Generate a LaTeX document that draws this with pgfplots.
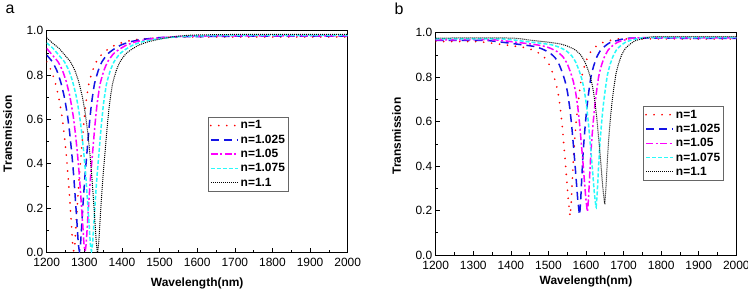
\documentclass[border=0pt]{standalone}
\usepackage{fontspec}
\setmainfont{Liberation Sans}
\usepackage{pgfplots}
\pgfplotsset{compat=1.18}
\definecolor{cred}{rgb}{1,0,0}
\definecolor{cblue}{rgb}{0.08,0.08,0.9}
\definecolor{cmag}{rgb}{1,0,1}
\definecolor{ccyan}{rgb}{0.16,0.98,0.98}
\pgfplotsset{
 myaxis/.style={
  scale only axis, xmin=1200,xmax=2000,ymin=0,ymax=1,
  xtick={1200,1300,...,2000}, ytick={0,0.2,0.4,0.6,0.8,1.0},
  minor x tick num=1, minor y tick num=1,
  tick align=inside, tick pos=left,
  major tick length=4bp, minor tick length=2.5bp,
  axis line style={line width=0.8bp},
  every tick/.style={line width=0.6bp},
  /pgf/number format/assume math mode=true,
  /pgf/number format/1000 sep={},
  yticklabel style={/pgf/number format/fixed, /pgf/number format/fixed zerofill, /pgf/number format/precision=1},
  xticklabel style={yshift=-2.5bp},
  tick label style={font=\fontsize{12}{14}\selectfont},
  label style={font=\fontsize{12}{14}\selectfont\bfseries},
  xlabel={Wavelength(nm)}, ylabel={Transmission},
  legend cell align=left,
  legend style={draw=gray!80!black, text=black, line width=0.6bp, fill=white, font=\fontsize{12}{14}\selectfont\bfseries, anchor=north west, inner sep=1.5bp, row sep=0.5bp},
  legend image code/.code={\draw[##1] (0bp,0bp) -- (27bp,0bp);},
 },
 s1/.style={draw=cred, line width=1.9bp, line cap=round, dash pattern=on 0bp off 8bp, smooth, tension=0.3},
 s2/.style={draw=cblue, line width=1.5bp, dash pattern=on 8bp off 5bp, smooth, tension=0.3},
 s3/.style={draw=cmag, line width=1.5bp, dash pattern=on 7bp off 2.5bp on 2bp off 2.5bp, smooth, tension=0.3},
 s4/.style={draw=ccyan, line width=1.5bp, dash pattern=on 4bp off 2bp, smooth, tension=0.3},
 s5/.style={draw=black, line width=1bp, dash pattern=on 1bp off 1bp, smooth, tension=0.3},
}
\begin{document}
\begin{tikzpicture}
\useasboundingbox (0,0) rectangle (748bp,293bp);
\node[font=\fontsize{16}{18}\selectfont] at (10bp,284bp) {a};
\node[font=\fontsize{16}{18}\selectfont] at (399bp,284bp) {b};
% ---------------- panel a
\begin{axis}[myaxis, at={(46.7bp,40.7bp)}, anchor=south west, width=301bp, height=221.6bp,
  xlabel style={at={(axis description cs:0.5,-0.1385)}, anchor=center},
  ylabel style={at={(axis description cs:-0.130,0.535)}, anchor=center},
  legend style={at={(0.536,0.611)}}]
\addplot[s1] coordinates {
(1200,0.86)(1212,0.82)(1222,0.77)(1232,0.70)(1240,0.62)(1246,0.54)(1252,0.44)(1257,0.34)(1262,0.22)(1266,0.12)(1269,0.04)(1272,0.005)(1275,0.04)(1278,0.12)(1282,0.23)(1287,0.35)(1292,0.45)(1298,0.57)(1304,0.67)(1312,0.76)(1322,0.82)(1332,0.86)(1347,0.895)(1362,0.915)(1382,0.935)(1407,0.95)(1437,0.96)(1472,0.965)(1522,0.97)(1600,0.972)(1800,0.972)(2000,0.972)};
\addlegendentry{n=1}
\addplot[s2] coordinates {
(1200,0.89)(1215,0.86)(1227,0.82)(1237,0.77)(1247,0.70)(1255,0.62)(1261,0.54)(1267,0.44)(1272,0.34)(1277,0.22)(1281,0.12)(1284,0.04)(1287,0.005)(1290,0.04)(1293,0.12)(1297,0.23)(1302,0.35)(1307,0.45)(1313,0.57)(1319,0.67)(1327,0.76)(1337,0.82)(1347,0.86)(1362,0.895)(1377,0.915)(1397,0.935)(1422,0.95)(1452,0.96)(1487,0.967)(1537,0.972)(1700,0.975)(2000,0.975)};
\addlegendentry{n=1.025}
\addplot[s3] coordinates {
(1200,0.92)(1215,0.89)(1230,0.86)(1242,0.82)(1252,0.77)(1262,0.70)(1270,0.62)(1276,0.54)(1282,0.44)(1287,0.34)(1292,0.22)(1296,0.12)(1299,0.04)(1302,0.005)(1305,0.04)(1308,0.12)(1312,0.23)(1317,0.35)(1322,0.45)(1328,0.57)(1334,0.67)(1342,0.76)(1352,0.82)(1362,0.86)(1377,0.895)(1392,0.915)(1412,0.935)(1437,0.95)(1467,0.96)(1502,0.968)(1552,0.974)(1700,0.977)(2000,0.977)};
\addlegendentry{n=1.05}
\addplot[s4] coordinates {
(1200,0.945)(1217,0.92)(1232,0.89)(1247,0.86)(1259,0.82)(1269,0.77)(1279,0.70)(1287,0.62)(1293,0.54)(1299,0.44)(1304,0.34)(1309,0.22)(1313,0.12)(1316,0.04)(1319,0.005)(1322,0.04)(1325,0.12)(1329,0.23)(1334,0.35)(1339,0.45)(1345,0.57)(1351,0.67)(1359,0.76)(1369,0.82)(1379,0.86)(1394,0.895)(1409,0.915)(1429,0.935)(1454,0.95)(1484,0.96)(1519,0.968)(1569,0.975)(1700,0.979)(2000,0.979)};
\addlegendentry{n=1.075}
\addplot[s5] coordinates {
(1200,0.968)(1215,0.945)(1233,0.92)(1248,0.89)(1263,0.86)(1275,0.82)(1285,0.77)(1295,0.70)(1303,0.62)(1309,0.54)(1315,0.44)(1320,0.34)(1325,0.22)(1329,0.12)(1332,0.04)(1335,0.0)(1338,0.04)(1341,0.12)(1345,0.23)(1350,0.35)(1355,0.45)(1361,0.57)(1367,0.67)(1375,0.76)(1385,0.82)(1395,0.86)(1410,0.895)(1425,0.915)(1445,0.935)(1470,0.95)(1500,0.962)(1535,0.972)(1585,0.98)(1700,0.983)(2000,0.983)};
\addlegendentry{n=1.1}
\end{axis}
% ---------------- panel b
\begin{axis}[myaxis, at={(435.7bp,38bp)}, anchor=south west, width=300.6bp, height=222.3bp,
  xlabel style={at={(axis description cs:0.5,-0.12)}, anchor=center},
  ylabel style={at={(axis description cs:-0.130,0.535)}, anchor=center},
  legend style={at={(0.6906,0.670)}}]
\addplot[s1] coordinates {
(1200,0.96)(1308,0.96)(1358,0.951)(1408,0.940)(1438,0.933)(1458,0.922)(1478,0.905)(1493,0.882)(1504,0.850)(1513,0.811)(1520,0.772)(1526,0.725)(1532,0.654)(1537,0.575)(1541,0.497)(1545,0.418)(1549,0.332)(1553,0.246)(1556,0.199)(1558,0.175)(1561,0.247)(1564,0.350)(1567,0.446)(1570,0.518)(1573,0.581)(1577,0.653)(1582,0.725)(1588,0.797)(1595,0.844)(1603,0.884)(1613,0.916)(1625,0.936)(1638,0.952)(1658,0.962)(1688,0.972)(1850,0.972)(2000,0.972)};
\addlegendentry{n=1}
\addplot[s2] coordinates {
(1200,0.965)(1333,0.965)(1383,0.956)(1433,0.945)(1463,0.938)(1483,0.927)(1503,0.910)(1518,0.887)(1529,0.855)(1538,0.816)(1545,0.777)(1551,0.730)(1557,0.659)(1562,0.580)(1566,0.502)(1570,0.423)(1574,0.337)(1578,0.251)(1581,0.204)(1583,0.18)(1586,0.252)(1589,0.355)(1592,0.450)(1595,0.522)(1598,0.585)(1602,0.657)(1607,0.729)(1613,0.800)(1620,0.848)(1628,0.888)(1638,0.919)(1650,0.939)(1663,0.955)(1683,0.965)(1713,0.975)(1850,0.975)(2000,0.975)};
\addlegendentry{n=1.025}
\addplot[s3] coordinates {
(1200,0.968)(1354,0.968)(1404,0.959)(1454,0.949)(1484,0.941)(1504,0.931)(1524,0.914)(1539,0.891)(1550,0.860)(1559,0.821)(1566,0.782)(1572,0.736)(1578,0.667)(1583,0.589)(1587,0.512)(1591,0.435)(1595,0.350)(1599,0.265)(1602,0.218)(1604,0.195)(1607,0.265)(1610,0.367)(1613,0.461)(1616,0.531)(1619,0.594)(1623,0.664)(1628,0.735)(1634,0.805)(1641,0.852)(1649,0.891)(1659,0.922)(1671,0.942)(1684,0.957)(1704,0.968)(1734,0.977)(1850,0.977)(2000,0.977)};
\addlegendentry{n=1.05}
\addplot[s4] coordinates {
(1200,0.972)(1377,0.972)(1427,0.963)(1477,0.953)(1507,0.946)(1527,0.936)(1547,0.919)(1562,0.896)(1573,0.866)(1582,0.828)(1589,0.790)(1595,0.745)(1601,0.677)(1606,0.601)(1610,0.525)(1614,0.450)(1618,0.366)(1622,0.283)(1625,0.238)(1627,0.215)(1630,0.284)(1633,0.383)(1636,0.474)(1639,0.543)(1642,0.604)(1646,0.673)(1651,0.741)(1657,0.810)(1664,0.856)(1672,0.894)(1682,0.925)(1694,0.944)(1707,0.959)(1727,0.969)(1757,0.978)(1870,0.978)(2000,0.978)};
\addlegendentry{n=1.075}
\addplot[s5] coordinates {
(1200,0.976)(1400,0.976)(1450,0.967)(1500,0.957)(1530,0.950)(1550,0.940)(1570,0.924)(1585,0.902)(1596,0.872)(1605,0.835)(1612,0.797)(1618,0.753)(1624,0.686)(1629,0.611)(1633,0.537)(1637,0.463)(1641,0.381)(1645,0.299)(1648,0.254)(1650,0.232)(1653,0.300)(1656,0.397)(1659,0.487)(1662,0.555)(1665,0.615)(1669,0.682)(1674,0.750)(1680,0.817)(1687,0.862)(1695,0.900)(1705,0.930)(1717,0.948)(1730,0.963)(1750,0.973)(1780,0.982)(1890,0.982)(2000,0.982)};
\addlegendentry{n=1.1}
\end{axis}
\end{tikzpicture}
\end{document}
